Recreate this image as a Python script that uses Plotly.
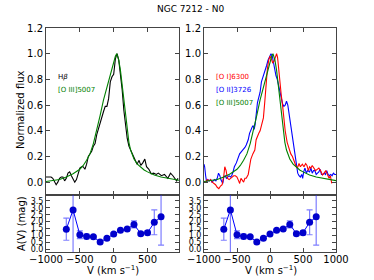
import plotly.graph_objects as go

# ---------------- data ----------------
v_hb = [-1000, -975, -950, -925, -900, -875, -850, -825, -800, -775, -750, -725, -700, -675, -650, -625,
        -600, -575, -550, -525, -500, -475, -450, -425, -400, -375, -350, -325, -300, -275, -250, -225,
        -200, -175, -150, -125, -100, -75, -50, -25, 0, 25, 50, 75, 100, 125, 150, 175, 200, 225, 250,
        275, 300, 325, 345, 375, 400, 430, 460, 485, 520, 555, 590, 630, 660, 705, 750, 800, 840, 875,
        930, 950]
f_hb = [0.04, 0.04, 0.035, 0.04, 0.03, 0.0, -0.02, 0.0, 0.03, 0.04, 0.04, 0.01, 0.03, 0.07, 0.08, 0.05,
        0.03, 0.0, 0.02, 0.06, 0.11, 0.12, 0.12, 0.1, 0.14, 0.2, 0.22, 0.24, 0.28, 0.3, 0.37, 0.42,
        0.46, 0.5, 0.55, 0.59, 0.59, 0.65, 0.78, 0.82, 0.84, 0.96, 1.0, 0.95, 0.85, 0.72, 0.56, 0.43,
        0.34, 0.28, 0.25, 0.22, 0.2, 0.17, 0.14, 0.17, 0.13, 0.15, 0.18, 0.12, 0.1, 0.065, 0.07, 0.06,
        0.07, 0.05, 0.06, 0.03, 0.07, 0.05, 0.01, 0.03]

v_o3 = [-1000, -900, -800, -700, -600, -500, -450, -400, -350, -300, -250, -200, -150, -100, -50, 0,
        25, 45, 75, 100, 125, 150, 175, 200, 225, 250, 300, 350, 400, 450, 500, 600, 700, 800, 900, 1000]
f_o3 = [0.005, 0.01, 0.02, 0.04, 0.065, 0.1, 0.13, 0.17, 0.22, 0.3, 0.4, 0.52, 0.64, 0.74, 0.84, 0.93,
        0.98, 1.0, 0.95, 0.87, 0.76, 0.63, 0.5, 0.39, 0.31, 0.25, 0.18, 0.14, 0.115, 0.095, 0.08, 0.055,
        0.04, 0.03, 0.02, 0.012]

v_o1 = [-975, -950, -925, -900, -875, -850, -825, -800, -775, -750, -725, -700, -685, -665, -645, -620,
        -600, -575, -550, -525, -500, -475, -460, -440, -420, -400, -380, -360, -330, -310, -290, -260,
        -230, -210, -190, -170, -150, -130, -100, -80, -60, -40, -20, 0, 20, 40, 60, 80, 100, 115, 130,
        150, 170, 190, 210, 230, 260, 290, 315, 340, 365, 390, 415, 440, 460, 490, 515, 540, 560, 580,
        600, 620, 640, 665, 690, 715, 740, 765, 795, 820, 845, 870, 895, 915, 935]
f_o1 = [0.0, 0.02, 0.01, 0.02, 0.0, -0.01, -0.02, -0.04, -0.05, -0.03, -0.02, 0.05, 0.12, 0.09, 0.03, 0.02,
        0.03, 0.04, 0.05, 0.05, 0.04, 0.01, -0.01, 0.03, 0.01, 0.0, 0.03, 0.03, 0.06, 0.12, 0.18, 0.22,
        0.25, 0.33, 0.36, 0.38, 0.4, 0.44, 0.5, 0.62, 0.78, 0.88, 0.95, 0.98, 0.96, 0.93, 0.94, 0.98, 1.0,
        0.97, 0.88, 0.78, 0.68, 0.6, 0.49, 0.4, 0.31, 0.25, 0.22, 0.2, 0.16, 0.13, 0.11, 0.145, 0.12, 0.14,
        0.12, 0.145, 0.13, 0.09, 0.12, 0.11, 0.13, 0.11, 0.09, 0.1, 0.11, 0.09, 0.055, 0.07, 0.09, 0.06,
        0.03, 0.05, -0.01]

v_o2 = [-1000, -990, -975, -960, -940, -920, -900, -880, -860, -840, -820, -800, -780, -760, -745, -730,
        -715, -700, -680, -660, -640, -620, -600, -580, -560, -540, -510, -480, -460, -430, -410, -380,
        -360, -330, -310, -290, -270, -255, -240, -225, -210, -190, -170, -150, -130, -110, -90, -70, -50,
        -30, -10, 15, 35, 50, 70, 90, 110, 130, 150, 170, 190, 210, 230, 250, 270, 290, 310, 330, 350, 370,
        390, 405, 420, 440, 460, 480, 495, 510, 530, 550, 570, 600, 620, 640, 660, 680, 700, 720, 740, 760,
        780, 800, 820, 840, 860, 880, 900, 920, 940, 960, 980, 1000]
f_o2 = [0.14, 0.12, 0.05, 0.0, 0.02, 0.01, 0.02, 0.0, 0.01, 0.02, 0.01, 0.03, 0.07, 0.05, 0.02, 0.0,
        -0.01, 0.04, 0.05, 0.03, 0.04, 0.05, 0.04, 0.05, 0.08, 0.12, 0.15, 0.2, 0.22, 0.24, 0.25, 0.27,
        0.29, 0.33, 0.38, 0.41, 0.43, 0.44, 0.41, 0.45, 0.55, 0.62, 0.66, 0.7, 0.78, 0.81, 0.84, 0.88, 0.91,
        0.95, 0.98, 1.0, 0.98, 0.94, 0.87, 0.83, 0.8, 0.76, 0.71, 0.66, 0.61, 0.59, 0.6, 0.63, 0.6, 0.53,
        0.45, 0.37, 0.3, 0.24, 0.17, 0.11, 0.07, 0.05, 0.04, 0.06, 0.03, 0.08, 0.11, 0.07, 0.09, 0.08,
        0.11, 0.07, 0.09, 0.09, 0.06, 0.07, 0.08, 0.1, 0.06, 0.06, 0.07, 0.06, 0.09, 0.06, 0.05, 0.06,
        0.05, 0.07, 0.06, 0.06]

av_v = [-700, -600, -500, -400, -300, -200, -100, 0, 100, 200, 300, 400, 500, 600, 700]
av = [1.45, 2.85, 1.05, 0.93, 0.9, 0.52, 0.8, 1.1, 1.38, 1.46, 1.8, 1.13, 1.2, 1.95, 2.35]
av_err = [0.8, 3.1, 0.28, 0.17, 0.05, 0.05, 0.05, 0.05, 0.05, 0.05, 0.25, 0.12, 0.15, 0.9, 2.05]

# ---------------- figure ----------------
W, H = 374, 280
fig = go.Figure()

def line(x, y, color, xa, ya):
    fig.add_trace(go.Scatter(x=x, y=y, mode="lines", line=dict(color=color, width=1.1),
                             xaxis=xa, yaxis=ya, showlegend=False, hoverinfo="skip"))

line(v_hb, f_hb, "black", "x", "y")
line(v_o3, f_o3, "#008000", "x", "y")
line(v_o2, f_o2, "#0000ff", "x2", "y2")
line(v_o1, f_o1, "#ff0000", "x2", "y2")
line(v_o3, f_o3, "#008000", "x2", "y2")

for xa, ya in (("x3", "y3"), ("x4", "y4")):
    fig.add_trace(go.Scatter(x=av_v, y=av, mode="lines+markers",
                             line=dict(color="#0000ff", width=1),
                             marker=dict(color="#0000cc", size=7, line=dict(width=0)),
                             error_y=dict(type="data", array=av_err, color="rgba(40,40,255,0.6)",
                                          thickness=1.2, width=3),
                             xaxis=xa, yaxis=ya, showlegend=False, hoverinfo="skip"))

tickfont = dict(family="DejaVu Sans", size=10, color="black")
smallfont = dict(family="DejaVu Sans", size=8, color="black")

def xax(domain, rng, showlabels, anchor, vals):
    return dict(domain=domain, range=rng, anchor=anchor, showgrid=False, zeroline=False,
                showline=True, mirror="ticks", linecolor="#444", linewidth=1,
                ticks="inside", ticklen=4, tickcolor="#444", tickvals=vals,
                showticklabels=showlabels, tickfont=tickfont, automargin=False,
                ticklabelstandoff=-2)

def yax(domain, rng, anchor, vals, font):
    return dict(domain=domain, range=rng, anchor=anchor, showgrid=False, zeroline=False,
                showline=True, mirror="ticks", linecolor="#444", linewidth=1,
                ticks="inside", ticklen=4, tickcolor="#444", tickvals=vals,
                ticktext=[f"{v:.1f}" for v in vals], tickfont=font, automargin=False)

def px(a, b):
    return [a / W, b / W]

def py(top, bottom):
    return [1 - bottom / H, 1 - top / H]

dl = px(46, 179)
dr = px(204, 336)
du = py(28, 195)
dd = py(195, 252)

xl_range = [-1000, 965]
xr_range = [-1000, 1000]
yu_vals = [0.0, 0.2, 0.4, 0.6, 0.8, 1.0, 1.2]
yd_vals = [0.0, 0.5, 1.0, 1.5, 2.0, 2.5, 3.0, 3.5]

fig.update_layout(
    template="none",
    width=W, height=H, margin=dict(l=0, r=0, t=0, b=0, autoexpand=False),
    paper_bgcolor="white", plot_bgcolor="white", showlegend=False,
    xaxis=xax(dl, xl_range, False, "y", [-1000, -500, 0, 500]),
    yaxis=yax(du, [-0.1, 1.2], "x", yu_vals, tickfont),
    xaxis2=xax(dr, xr_range, False, "y2", [-1000, -500, 0, 500, 1000]),
    yaxis2=yax(du, [-0.1, 1.2], "x2", yu_vals, tickfont),
    xaxis3=xax(dl, xl_range, True, "y3", [-1000, -500, 0, 500]),
    yaxis3=yax(dd, [-0.2, 3.93], "x3", yd_vals, smallfont),
    xaxis4=xax(dr, xr_range, True, "y4", [-1000, -500, 0, 500, 1000]),
    yaxis4=yax(dd, [-0.2, 3.93], "x4", yd_vals, smallfont),
)

def ann(text, x, y, size=10, color="black", angle=0, xanchor="center"):
    fig.add_annotation(text=text, x=x / W, y=1 - y / H, xref="paper", yref="paper",
                       showarrow=False, textangle=angle, xanchor=xanchor, yanchor="middle",
                       font=dict(family="DejaVu Sans", size=size, color=color))

ann("NGC 7212 - N0", 190, 9, size=9)
ann("Normalized flux", 21, 110, size=10, angle=-90)
ann("A(V) (mag)", 21, 224, size=10, angle=-90)
ann("V (km s<sup>−1</sup>)", 113, 270, size=10)
ann("V (km s<sup>−1</sup>)", 271, 270, size=10)

ann("H<i>β</i>", 56, 77, size=7, color="black", xanchor="left")
ann("[O III]5007", 56, 90, size=7, color="#008000", xanchor="left")
ann("[O I]6300", 214, 77, size=7, color="#ff0000", xanchor="left")
ann("[O II]3726", 214, 90, size=7, color="#0000ff", xanchor="left")
ann("[O III]5007", 214, 103, size=7, color="#008000", xanchor="left")

# remove the page's default 8px body margin so the figure sits at the window origin
fig.write_html("out.html", config={"displayModeBar": False, "staticPlot": True},
               post_script="document.body.style.margin='0';")
